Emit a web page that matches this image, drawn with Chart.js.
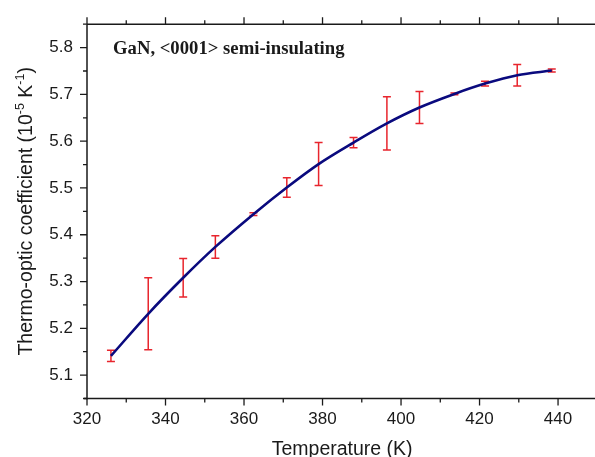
<!DOCTYPE html>
<html>
<head>
<meta charset="utf-8">
<title>GaN thermo-optic coefficient</title>
<script src="https://cdn.jsdelivr.net/npm/chart.js"></script>
<style>
  html, body { margin: 0; padding: 0; background: #fff; overflow: hidden; }
  #wrap { width: 598px; height: 457px; }
</style>
</head>
<body>
<div id="wrap"><canvas id="chart"></canvas></div>
<script>
// values
const temperatures = [326.1, 335.6, 344.5, 352.7, 362.4, 370.9, 379.0, 387.9, 396.4, 404.7, 413.6, 421.4, 429.6, 438.4];
const coefficients = [5.141, 5.231, 5.308, 5.374, 5.444, 5.501, 5.551, 5.597, 5.638, 5.672, 5.701, 5.723, 5.741, 5.751];
const errors = [0.012, 0.077, 0.041, 0.024, 0.003, 0.021, 0.046, 0.011, 0.057, 0.034, 0.002, 0.005, 0.023, 0.003];

const xTicks = [320, 340, 360, 380, 400, 420, 440];
const yTicks = [5.1, 5.2, 5.3, 5.4, 5.5, 5.6, 5.7, 5.8];

const sampleLabel = 'GaN, <0001> semi-insulating';
const xTitle = 'Temperature (K)';

const axisColor = '#1a1a1a';
const fitColor = '#0a0a7e';
const errColor = '#e8252d';

const points = temperatures.map((t, i) => ({ x: t, y: coefficients[i] }));

// red error bars, drawn under the fitted curve
const errorBars = {
  id: 'errorBars',
  beforeDatasetsDraw(chart) {
    const { ctx, scales } = chart;
    ctx.save();
    ctx.strokeStyle = errColor;
    ctx.lineWidth = 1.5;
    temperatures.forEach((t, i) => {
      const px = scales.x.getPixelForValue(t);
      const top = scales.y.getPixelForValue(coefficients[i] + errors[i]);
      const bot = scales.y.getPixelForValue(coefficients[i] - errors[i]);
      ctx.beginPath();
      ctx.moveTo(px, top); ctx.lineTo(px, bot);
      ctx.moveTo(px - 4, top); ctx.lineTo(px + 4, top);
      ctx.moveTo(px - 4, bot); ctx.lineTo(px + 4, bot);
      ctx.stroke();
    });
    ctx.restore();
  }
};

// axis frame with outward ticks, titles and the sample label
const frame = {
  id: 'frame',
  afterDraw(chart) {
    const { ctx, chartArea: a, scales } = chart;
    ctx.save();
    ctx.strokeStyle = axisColor;
    ctx.lineWidth = 1.5;
    ctx.beginPath();
    ctx.moveTo(a.left, a.top); ctx.lineTo(a.right + 5, a.top);
    ctx.moveTo(a.left - 3, a.bottom); ctx.lineTo(a.right + 5, a.bottom);
    ctx.moveTo(a.left, a.top); ctx.lineTo(a.left, a.bottom + 1);
    ctx.stroke();

    ctx.lineWidth = 1.3;
    ctx.beginPath();
    for (let v = 320; v <= 450; v += 10) {
      const px = scales.x.getPixelForValue(v);
      const len = v % 20 === 0 ? 7 : 4;
      ctx.moveTo(px, a.bottom); ctx.lineTo(px, a.bottom + len);
      ctx.moveTo(px, a.top); ctx.lineTo(px, a.top - len);
    }
    for (let k = 101; k <= 117; k++) {
      const py = scales.y.getPixelForValue(k / 20);
      const len = k % 2 === 0 ? 7 : 4;
      ctx.moveTo(a.left, py); ctx.lineTo(a.left - len, py);
    }
    ctx.stroke();

    // x title
    ctx.fillStyle = axisColor;
    ctx.font = '19.5px "Liberation Sans", Arial, sans-serif';
    ctx.textAlign = 'center';
    ctx.textBaseline = 'alphabetic';
    ctx.fillText(xTitle, (a.left + a.right) / 2, 455);

    // y title with superscripts
    const parts = [
      ['Thermo-optic coefficient (10', false],
      ['-5', true],
      [' K', false],
      ['-1', true],
      [')', false]
    ];
    const big = '19.5px "Liberation Sans", Arial, sans-serif';
    const small = '12.5px "Liberation Sans", Arial, sans-serif';
    let total = 0;
    parts.forEach(([s, sup]) => { ctx.font = sup ? small : big; total += ctx.measureText(s).width; });
    ctx.translate(32, (a.top + a.bottom) / 2);
    ctx.rotate(-Math.PI / 2);
    ctx.textAlign = 'left';
    let cx = -total / 2;
    parts.forEach(([s, sup]) => {
      ctx.font = sup ? small : big;
      ctx.fillText(s, cx, sup ? -8 : 0);
      cx += ctx.measureText(s).width;
    });
    ctx.setTransform(1, 0, 0, 1, 0, 0);

    // sample label
    ctx.font = 'bold 18.7px "Liberation Serif", "Times New Roman", serif';
    ctx.textAlign = 'left';
    ctx.fillText(sampleLabel, a.left + 26, 53.5);
    ctx.restore();
  }
};

new Chart(document.getElementById('chart'), {
  type: 'line',
  data: {
    datasets: [{
      data: points,
      borderColor: fitColor,
      borderWidth: 2.6,
      pointRadius: 0,
      fill: false,
      cubicInterpolationMode: 'monotone'
    }]
  },
  options: {
    responsive: true,
    maintainAspectRatio: false,
    animation: false,
    devicePixelRatio: 1,
    layout: { padding: { top: 19.5, right: 0.7, left: 0, bottom: 0 } },
    plugins: { legend: { display: false }, tooltip: { enabled: false } },
    scales: {
      x: {
        type: 'linear',
        min: 320,
        max: 450,
        afterFit: s => { s.height = 58.5; },
        afterBuildTicks: s => { s.ticks = xTicks.map(v => ({ value: v })); },
        grid: { display: false, drawTicks: false },
        border: { display: false },
        ticks: {
          color: axisColor,
          padding: 11,
          maxRotation: 0,
          autoSkip: false,
          font: { family: '"Liberation Sans", Arial, sans-serif', size: 17 },
          callback: v => String(v)
        }
      },
      y: {
        type: 'linear',
        min: 5.05,
        max: 5.85,
        afterFit: s => { s.width = 87; },
        afterBuildTicks: s => { s.ticks = yTicks.map(v => ({ value: v })); },
        grid: { display: false, drawTicks: false },
        border: { display: false },
        ticks: {
          color: axisColor,
          padding: 14,
          autoSkip: false,
          font: { family: '"Liberation Sans", Arial, sans-serif', size: 17 },
          callback: v => v.toFixed(1)
        }
      }
    }
  },
  plugins: [errorBars, frame]
});
</script>
</body>
</html>
